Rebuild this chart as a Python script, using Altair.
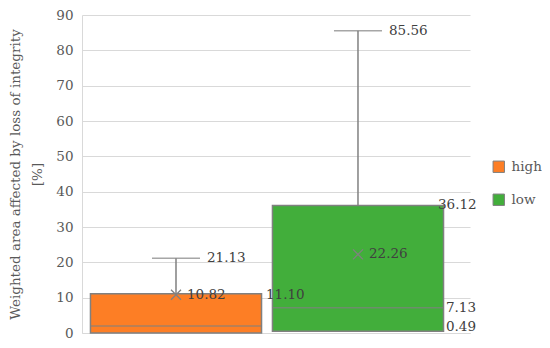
import altair as alt
import pandas as pd

groups = ["high", "low"]
q1 = [0.0, 0.49]
median = [2.0, 7.13]
q3 = [11.10, 36.12]
mean = [10.82, 22.26]
maxv = [21.13, 85.56]
colors = ["#FD7E25", "#42AE3B"]

df = pd.DataFrame({"group": groups, "q1": q1, "median": median, "q3": q3,
                   "mean": mean, "max": maxv})
df["q3_lbl"] = [f"{v:.2f}" for v in q3]
df["mean_lbl"] = [f"{v:.2f}" for v in mean]
df["max_lbl"] = [f"{v:.2f}" for v in maxv]
df["med_lbl"] = [f"{v:.2f}" for v in median]
df["q1_lbl"] = [f"{v:.2f}" for v in q1]

FONT = "DejaVu Serif"
FS = 13.5
GRAY = "#808080"
TXT = "#404040"

xaxis = alt.Axis(labels=False, ticks=False, domainColor="#d9d9d9", grid=False)
xenc = alt.X("group:N", title=None,
             scale=alt.Scale(domain=groups, paddingInner=0, paddingOuter=0.066, align=0.125),
             axis=xaxis)
yscale = alt.Scale(domain=[0, 90], nice=False)
yaxis = alt.Axis(values=list(range(0, 91, 10)), ticks=False, domainColor="#d9d9d9",
                 gridColor="#d9d9d9", labelFont=FONT, labelFontSize=FS, labelColor="#595959",
                 labelPadding=9, labelOverlap=False,
                 title=["Weighted area affected by loss of integrity", "[%]"],
                 titleFont=FONT, titleFontSize=FS, titleFontWeight="normal", titleColor="#595959",
                 titlePadding=11, titleLineHeight=22)

def Y(field):
    return alt.Y(f"{field}:Q", scale=yscale, axis=yaxis)

base = alt.Chart(df)

boxes = base.mark_bar(width=alt.RelativeBandSize(0.94), stroke=GRAY, strokeWidth=1.5).encode(
    x=xenc,
    y=Y("q1"),
    y2="q3:Q",
    color=alt.Color("group:N", scale=alt.Scale(domain=groups, range=colors),
                    legend=alt.Legend(title=None, orient="none", legendX=410, legendY=145,
                                      symbolType="square", symbolSize=130,
                                      symbolStrokeColor=GRAY, symbolStrokeWidth=1,
                                      labelFont=FONT, labelFontSize=FS, labelColor="#595959",
                                      rowPadding=17, labelOffset=6)),
)

medline = base.mark_tick(size=171, thickness=1.5, color=GRAY).encode(x=xenc, y=Y("median"))
whisker = base.mark_rule(color=GRAY, strokeWidth=1.5).encode(x=xenc, y=Y("q3"), y2="max:Q")
cap = base.mark_tick(size=48, thickness=1.5, color=GRAY).encode(x=xenc, y=Y("max"))
meanpt = base.mark_point(shape="M-1,-1L1,1M-1,1L1,-1", filled=False, size=100,
                         strokeWidth=1.3, color=GRAY, opacity=1).encode(x=xenc, y=Y("mean"))

def lbl(field, text, dx, dy=0, grp=None):
    c = base
    if grp is not None:
        c = c.transform_filter(alt.datum.group == grp)
    return c.mark_text(align="left", baseline="middle", dx=dx, dy=dy, font=FONT, fontSize=FS,
                       color=TXT).encode(x=xenc, y=Y(field), text=f"{text}:N")

labels = [
    lbl("max", "max_lbl", 31),
    lbl("mean", "mean_lbl", 11),
    lbl("q3", "q3_lbl", 90, 1, "high"),
    lbl("q3", "q3_lbl", 80, 0, "low"),
    lbl("median", "med_lbl", 88, 0, "low"),
    lbl("q1", "q1_lbl", 88, -4, "low"),
]

chart = alt.layer(boxes, medline, whisker, cap, meanpt, *labels).properties(
    width=388, height=318,
    autosize=alt.AutoSizeParams(type="none"),
    padding={"left": 74, "top": 7, "right": 72, "bottom": 7},
).configure(font=FONT).configure_view(stroke=None)

chart.save("out.html", embed_options={"renderer": "svg", "actions": False})
